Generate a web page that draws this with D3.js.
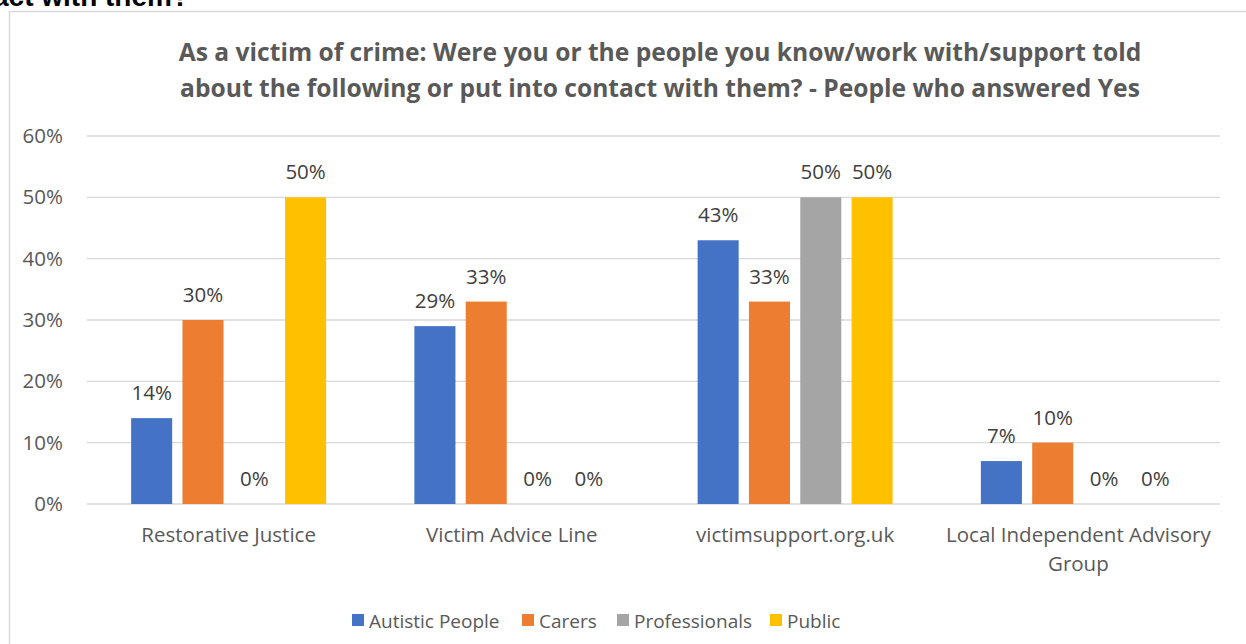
<!DOCTYPE html>
<html><head><meta charset="utf-8">
<script src="https://cdn.jsdelivr.net/npm/d3@7"></script>
<style>body{margin:0;background:#fff;overflow:hidden}svg{display:block}</style>
</head><body><svg id="c" width="1246" height="644"></svg>
<script>
const categories = ["Restorative Justice", "Victim Advice Line", "victimsupport.org.uk", "Local Independent Advisory Group"];
const seriesNames = ["Autistic People", "Carers", "Professionals", "Public"];
const autistic = [14, 29, 43, 7];
const carers = [30, 33, 33, 10];
const professionals = [0, 0, 50, 0];
const publicVals = [50, 0, 50, 0];
const yTicks = [0, 10, 20, 30, 40, 50, 60];
const colors = ["#4472C4", "#ED7D31", "#A5A5A5", "#FFC000"];
const seriesValues = [autistic, carers, professionals, publicVals];

(function() {
const svg = d3.select("#c");
const font = "'Open Sans', sans-serif";
const textCol = "#595959";
const fs = 20.5;

// cropped heading from page above
svg.append("text").attr("x", -7).attr("y", 6).attr("font-family", "'Liberation Sans', Arial, sans-serif")
  .attr("font-weight", "bold").attr("font-size", 28).attr("fill", "#000").text("act with them?");

// chart border
svg.append("path").attr("d", "M9.5,644 V11.5 H1260").attr("fill", "none").attr("stroke", "#D9D9D9").attr("stroke-width", 1.5);

// title
const title = svg.append("text").attr("text-anchor", "middle").attr("font-family", font)
  .attr("font-weight", "bold").attr("font-size", 24.6).attr("fill", textCol);
title.append("tspan").attr("x", 660).attr("y", 61).text("As a victim of crime: Were you or the people you know/work with/support told");
title.append("tspan").attr("x", 660).attr("y", 97).text("about the following or put into contact with them? - People who answered Yes");

const pL = 87, pR = 1220, pT = 136, pB = 504;
const y = d3.scaleLinear().domain([0, 60]).range([pB, pT]);
const x0 = d3.scaleBand().domain(categories).range([pL, pR]).padding(0);
const x1 = d3.scaleBand().domain(seriesNames)
  .range([x0.bandwidth() / 2 - 97.5, x0.bandwidth() / 2 + 97.5]).paddingInner(0.2).paddingOuter(0);

// gridlines
svg.append("g").selectAll("line").data(yTicks).join("line")
  .attr("x1", pL).attr("x2", pR).attr("y1", d => y(d)).attr("y2", d => y(d))
  .attr("stroke", "#D9D9D9").attr("stroke-width", 1.3);

// y axis labels
const yAxis = d3.axisLeft(y).tickValues(yTicks).tickFormat(d => d + "%").tickSize(0).tickPadding(0);
const ya = svg.append("g").attr("transform", "translate(63,0)").call(yAxis);
ya.select(".domain").remove();
ya.selectAll("text").attr("font-family", font).attr("font-size", fs).attr("fill", textCol);

// bars
const groups = svg.append("g").selectAll("g").data(categories).join("g")
  .attr("transform", d => `translate(${x0(d)},0)`);
groups.each(function(cat, ci) {
  const g = d3.select(this);
  seriesNames.forEach((s, si) => {
    const v = seriesValues[si][ci];
    g.append("rect").attr("x", x1(s)).attr("width", x1.bandwidth())
      .attr("y", y(v)).attr("height", y(0) - y(v)).attr("fill", colors[si]);
    g.append("text").attr("x", x1(s) + x1.bandwidth() / 2).attr("y", y(v) - 18)
      .attr("text-anchor", "middle").attr("font-family", font).attr("font-size", fs)
      .attr("fill", "#404040").text(v + "%");
  });
});

// x axis labels
const xLabels = {
  "Restorative Justice": ["Restorative Justice"],
  "Victim Advice Line": ["Victim Advice Line"],
  "victimsupport.org.uk": ["victimsupport.org.uk"],
  "Local Independent Advisory Group": ["Local Independent Advisory", "Group"]
};
svg.append("g").selectAll("text").data(categories).join("text")
  .attr("text-anchor", "middle").attr("font-family", font).attr("font-size", fs).attr("fill", textCol)
  .each(function(d) {
    const t = d3.select(this);
    xLabels[d].forEach((line, i) => {
      t.append("tspan").attr("x", x0(d) + x0.bandwidth() / 2).attr("y", 542 + i * 29).text(line);
    });
  });

// legend
const legendX = [352, 522, 617, 770];
const lg = svg.append("g");
seriesNames.forEach((s, i) => {
  lg.append("rect").attr("x", legendX[i]).attr("y", 614).attr("width", 12).attr("height", 12).attr("fill", colors[i]);
  lg.append("text").attr("x", legendX[i] + 17).attr("y", 628).attr("font-family", font).attr("font-size", 19)
    .attr("fill", textCol).text(s);
});
})();
</script></body></html>
